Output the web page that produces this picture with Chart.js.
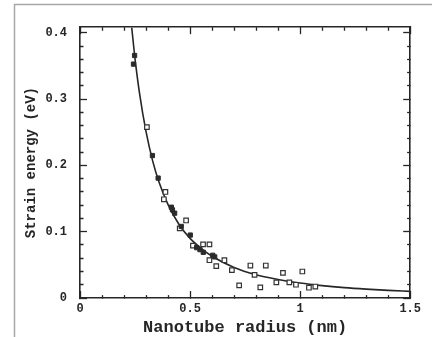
<!DOCTYPE html>
<html>
<head>
<meta charset="utf-8">
<script src="https://cdn.jsdelivr.net/npm/chart.js@4/dist/chart.umd.min.js"></script>
<style>
html,body{margin:0;padding:0;background:#fff;}
canvas{display:block;}
</style>
</head>
<body>
<canvas id="c" width="432" height="337"></canvas>
<script>
// ---- data ----
const curveR = [0.235,0.25,0.27,0.30,0.33,0.36,0.40,0.45,0.50,0.55,0.60,0.70,0.80,0.90,1.00,1.10,1.20,1.30,1.40,1.50];
const curveE = [0.408,0.361,0.310,0.251,0.207,0.174,0.141,0.111,0.090,0.075,0.063,0.046,0.035,0.028,0.0226,0.0187,0.0157,0.0134,0.0115,0.0100];

const filledR = [0.248,0.243,0.329,0.355,0.415,0.420,0.430,0.460,0.501,0.530,0.545,0.560,0.603,0.612];
const filledE = [0.366,0.353,0.215,0.181,0.137,0.133,0.128,0.108,0.095,0.076,0.073,0.069,0.0645,0.062];

const openR = [0.304,0.388,0.381,0.453,0.482,0.513,0.559,0.588,0.588,0.619,0.656,0.690,0.723,0.774,0.793,0.819,0.844,0.892,0.922,0.951,0.981,1.010,1.040,1.069];
const openE = [0.258,0.160,0.149,0.105,0.117,0.079,0.081,0.081,0.057,0.048,0.057,0.042,0.019,0.049,0.035,0.016,0.049,0.0236,0.038,0.0236,0.020,0.040,0.0155,0.0173];

const xTickLabels = ['0','0.5','1','1.5'];
const yTickLabels = ['0','0.1','0.2','0.3','0.4'];

const xTitle = 'Nanotube radius (nm)';
const yTitle = 'Strain energy (eV)';

// ---- helpers ----
const toPts = (xs, ys) => xs.map((x, i) => ({x: x, y: ys[i]}));
const ink = '#262626';
const tickFont = {family: '"Liberation Mono", monospace', size: 12, weight: 'bold'};

function isMajor(v, step) { return Math.abs(v / step - Math.round(v / step)) < 1e-6; }
function labelFor(v, step, labels) {
  if (!isMajor(v, step)) return '';
  const s = String(+v.toFixed(2));
  return labels.includes(s) ? s : '';
}
// dash for ticks drawn from border inward (bottom, right)
function dashOut(step) {
  return ctx => (ctx.tick && isMajor(ctx.tick.value, step)) ? [] : [3.5, 30];
}
// dash for ticks drawn from inside toward border (top, left)
function dashIn(step) {
  return ctx => (ctx.tick && isMajor(ctx.tick.value, step)) ? [] : [0, 3.5, 3.5, 30];
}

const framePlugin = {
  id: 'frame',
  beforeDraw(chart) {
    const c = chart.ctx;
    c.save();
    c.fillStyle = '#fff';
    c.fillRect(0, 0, chart.width, chart.height);
    c.strokeStyle = '#a8a8a8';
    c.lineWidth = 1.5;
    c.beginPath();
    c.moveTo(14.5, chart.height);
    c.lineTo(14.5, 4.5);
    c.lineTo(chart.width, 4.5);
    c.stroke();
    c.restore();
  }
};

const X_MAX = 1.5, Y_MAX = 0.4087;

new Chart(document.getElementById('c'), {
  type: 'scatter',
  data: {
    datasets: [
      {
        type: 'line',
        data: toPts(curveR, curveE),
        borderColor: ink,
        borderWidth: 1.6,
        pointRadius: 0,
        fill: false,
        cubicInterpolationMode: 'monotone',
        order: 3
      },
      {
        data: toPts(openR, openE),
        pointStyle: 'rect',
        pointRadius: 3.2,
        backgroundColor: '#fff',
        borderColor: '#333',
        borderWidth: 1.2,
        order: 2
      },
      {
        data: toPts(filledR, filledE),
        pointStyle: 'rect',
        pointRadius: 3,
        backgroundColor: '#2b2b2b',
        borderColor: '#2b2b2b',
        borderWidth: 1,
        order: 1
      }
    ]
  },
  options: {
    responsive: false,
    devicePixelRatio: 1,
    animation: false,
    layout: {padding: {left: 0, right: 13, top: 15, bottom: 0}},
    plugins: {legend: {display: false}, tooltip: {enabled: false}},
    scales: {
      x: {
        type: 'linear', position: 'bottom', min: 0, max: X_MAX,
        border: {display: true, color: ink, width: 1.6},
        grid: {drawOnChartArea: false, tickLength: -7, tickColor: ink, tickWidth: 1.3, tickBorderDash: dashOut(0.5)},
        ticks: {stepSize: 0.1, autoSkip: false, maxRotation: 0, padding: 11, color: ink, font: tickFont,
                callback: v => labelFor(v, 0.5, xTickLabels)},
        title: {display: true, text: xTitle, color: ink,
                font: {family: '"Liberation Mono", monospace', size: 17, weight: 'bold', lineHeight: 1.0},
                padding: {top: 0, bottom: 0.5}},
        afterFit: s => { s.height = 39; }
      },
      x2: {
        type: 'linear', position: 'top', min: 0, max: X_MAX,
        border: {display: true, color: ink, width: 1.6},
        grid: {drawOnChartArea: false, tickLength: -7, tickColor: ink, tickWidth: 1.3, tickBorderDash: dashIn(0.5)},
        ticks: {stepSize: 0.1, autoSkip: false, display: false},
        afterFit: s => { s.height = 0; }
      },
      y: {
        type: 'linear', position: 'left', min: 0, max: Y_MAX,
        border: {display: true, color: ink, width: 1.6},
        grid: {drawOnChartArea: false, tickLength: -7, tickColor: ink, tickWidth: 1.3, tickBorderDash: dashIn(0.1)},
        ticks: {stepSize: 0.02, includeBounds: false, autoSkip: false, padding: 20, color: ink, font: tickFont,
                callback: v => labelFor(v, 0.1, yTickLabels)},
        title: {display: true, text: yTitle, color: ink,
                font: {family: '"Liberation Mono", monospace', size: 14, weight: 'bold', lineHeight: 1.2},
                padding: {top: 23, bottom: 0}},
        afterFit: s => { s.width = 80; }
      },
      y2: {
        type: 'linear', position: 'right', min: 0, max: Y_MAX,
        border: {display: true, color: ink, width: 1.6},
        grid: {drawOnChartArea: false, tickLength: -7, tickColor: ink, tickWidth: 1.3, tickBorderDash: dashOut(0.1)},
        ticks: {stepSize: 0.02, includeBounds: false, autoSkip: false, display: false},
        afterFit: s => { s.width = 0; }
      }
    }
  },
  plugins: [framePlugin]
});
</script>
</body>
</html>
